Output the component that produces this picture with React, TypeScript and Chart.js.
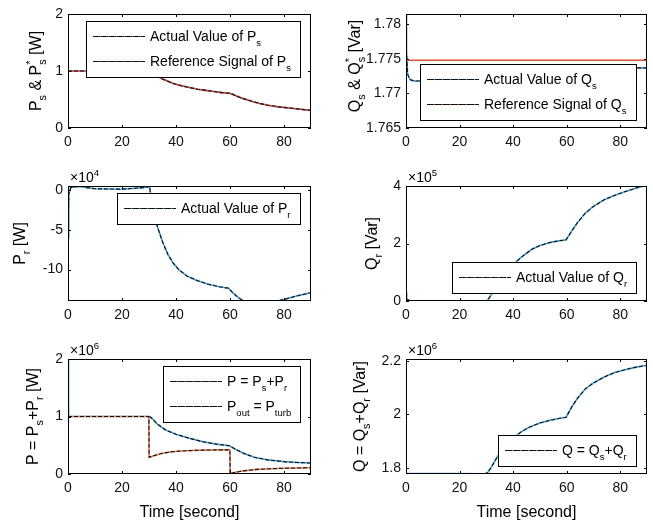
import { useEffect, useRef } from "react";
import { Chart, registerables } from "chart.js";

Chart.register(...registerables);

const FONT = "'Liberation Sans', Arial, sans-serif";
const BLUE = "#45a5dc";
const RED = "#e0503a";
const ORANGE = "#e8875a";

const xTicks = [0, 20, 40, 60, 80];

// stator active power P_s (actual and reference overlap)
const psTime = [0, 10, 20, 29.9, 30.5, 31.5, 33, 35, 37, 39, 42, 45, 48, 51, 54, 57, 59.8, 61, 63, 65, 68, 71, 74, 78, 82, 86, 90];
const psActual = [1, 1, 1, 1, 1, 0.97, 0.91, 0.86, 0.82, 0.78, 0.74, 0.71, 0.68, 0.66, 0.64, 0.62, 0.61, 0.59, 0.55, 0.515, 0.47, 0.43, 0.4, 0.37, 0.35, 0.33, 0.31];
const psReference = [1, 1, 1, 1, 1, 0.97, 0.91, 0.86, 0.82, 0.78, 0.74, 0.71, 0.68, 0.66, 0.64, 0.62, 0.61, 0.59, 0.55, 0.515, 0.47, 0.43, 0.4, 0.37, 0.35, 0.33, 0.31];

// stator reactive power Q_s
const qsTime = [0, 0.2, 0.6, 1.5, 3, 6, 15, 30, 45, 60, 75, 85, 90];
const qsActual = [1.7815, 1.776, 1.7728, 1.772, 1.7718, 1.7718, 1.772, 1.7724, 1.7728, 1.7731, 1.7734, 1.7737, 1.7737];
const qsRefTime = [0, 90];
const qsReference = [1.7748, 1.7748];

// rotor active power P_r (x10^4)
const prTime = [0, 0.3, 1, 3, 5, 7, 10, 20, 28, 29.9, 30.2, 30.6, 31.2, 32, 33, 35, 37, 39, 41, 44, 48, 52, 56, 59.5, 61, 63, 65, 68, 71, 75, 80, 85, 90];
const prValues = [-6, -0.5, 0.3, 0.4, 0.45, 0.3, 0.15, 0.1, 0.3, 0.4, 0.5, -0.6, -1.6, -3, -4.5, -6.5, -8.1, -9.2, -10, -10.8, -11.4, -11.85, -12.15, -12.35, -12.9, -13.5, -13.95, -14.2, -14.3, -14.15, -13.75, -13.3, -12.9];

// rotor reactive power Q_r (x10^5)
const qrTime = [0, 0.3, 2, 10, 20, 25, 29, 30, 31, 32, 34, 36, 38, 40, 43, 47, 50, 54, 57, 59.8, 62, 64, 67, 70, 74, 78, 82, 86, 90];
const qrValues = [0.3, 0.05, 0, -0.02, -0.03, -0.04, -0.03, -0.02, 0.1, 0.25, 0.55, 0.82, 1.05, 1.27, 1.52, 1.8, 1.93, 2.04, 2.09, 2.13, 2.45, 2.72, 3.06, 3.29, 3.52, 3.68, 3.81, 3.93, 4.03];

// total active power P and turbine output (x10^6)
const pTime = [0, 0.2, 29.9, 30.5, 31.5, 33, 36, 40, 45, 50, 55, 59.8, 62, 65, 69, 74, 80, 85, 90];
const pValues = [2, 1, 1, 0.99, 0.95, 0.87, 0.77, 0.69, 0.62, 0.56, 0.52, 0.49, 0.43, 0.36, 0.29, 0.245, 0.215, 0.2, 0.19];
const poutTime = [0, 29.95, 30.05, 32, 35, 38, 42, 46, 50, 55, 59.95, 60.05, 62, 65, 70, 75, 80, 85, 90];
const poutValues = [1, 1, 0.29, 0.32, 0.36, 0.385, 0.4, 0.41, 0.415, 0.42, 0.42, 0.01, 0.03, 0.055, 0.08, 0.092, 0.1, 0.105, 0.11];

// total reactive power Q (x10^6)
const qTime = [0, 0.3, 5, 10, 20, 28, 29.5, 30.5, 32, 34, 37, 40, 43, 46, 50, 54, 57, 59.8, 62, 64, 67, 70, 74, 78, 82, 86, 90];
const qValues = [1.781, 1.779, 1.779, 1.779, 1.779, 1.778, 1.778, 1.783, 1.805, 1.84, 1.884, 1.912, 1.935, 1.952, 1.968, 1.979, 1.985, 1.99, 2.03, 2.06, 2.096, 2.118, 2.14, 2.157, 2.168, 2.177, 2.184];

type Curve = { t: number[]; v: number[]; color: string; dashed: boolean };
type LegendItem = { text: string; color: string };
type PanelSpec = {
  canvas: [number, number, number, number];
  box: [number, number, number, number];
  yMin: number;
  yMax: number;
  yTicks: number[];
  yTitle: string;
  titleX: number;
  titleShift?: number;
  exponent?: string;
  legend: LegendItem[];
  corner: "ne" | "se";
  xTitle?: string;
  curves: Curve[];
};

const panels: PanelSpec[] = [
  {
    canvas: [0, 0, 330, 165],
    box: [68, 14, 311, 128],
    yMin: 0,
    yMax: 2,
    yTicks: [0, 1, 2],
    yTitle: "P_s & P_s^* [W]",
    titleX: 35,
    legend: [
      { text: "Actual Value of P_s", color: BLUE },
      { text: "Reference Signal of P_s", color: RED },
    ],
    corner: "ne",
    curves: [
      { t: psTime, v: psActual, color: BLUE, dashed: false },
      { t: psTime, v: psReference, color: RED, dashed: true },
    ],
  },
  {
    canvas: [330, 0, 323, 165],
    box: [406, 14, 647, 128],
    yMin: 1.765,
    yMax: 1.7815,
    yTicks: [1.765, 1.77, 1.775, 1.78],
    yTitle: "Q_s & Q_s^* [Var]",
    titleX: 24,
    titleShift: -5,
    legend: [
      { text: "Actual Value of Q_s", color: BLUE },
      { text: "Reference Signal of Q_s", color: RED },
    ],
    corner: "se",
    curves: [
      { t: qsRefTime, v: qsReference, color: RED, dashed: false },
      { t: qsTime, v: qsActual, color: BLUE, dashed: true },
    ],
  },
  {
    canvas: [0, 165, 330, 170],
    box: [68, 186, 311, 301],
    yMin: -13.95,
    yMax: 0.5,
    yTicks: [-10, -5, 0],
    yTitle: "P_r [W]",
    titleX: 19,
    exponent: "×10^4",
    legend: [{ text: "Actual Value of P_r", color: BLUE }],
    corner: "ne",
    curves: [{ t: prTime, v: prValues, color: BLUE, dashed: true }],
  },
  {
    canvas: [330, 165, 323, 170],
    box: [406, 186, 647, 301],
    yMin: 0,
    yMax: 4,
    yTicks: [0, 2, 4],
    yTitle: "Q_r [Var]",
    titleX: 41,
    exponent: "×10^5",
    legend: [{ text: "Actual Value of Q_r", color: BLUE }],
    corner: "se",
    curves: [{ t: qrTime, v: qrValues, color: BLUE, dashed: true }],
  },
  {
    canvas: [0, 335, 330, 188],
    box: [68, 359, 311, 474],
    yMin: 0,
    yMax: 2,
    yTicks: [0, 1, 2],
    yTitle: "P = P_s+P_r [W]",
    titleX: 32,
    exponent: "×10^6",
    legend: [
      { text: "P = P_s+P_r", color: BLUE },
      { text: "P_{out} = P_{turb}", color: ORANGE },
    ],
    corner: "ne",
    xTitle: "Time [second]",
    curves: [
      { t: pTime, v: pValues, color: BLUE, dashed: true },
      { t: poutTime, v: poutValues, color: ORANGE, dashed: true },
    ],
  },
  {
    canvas: [330, 335, 323, 188],
    box: [406, 359, 647, 474],
    yMin: 1.7775,
    yMax: 2.2075,
    yTicks: [1.8, 2, 2.2],
    yTitle: "Q = Q_s+Q_r [Var]",
    titleX: 29,
    exponent: "×10^6",
    legend: [{ text: "Q = Q_s+Q_r", color: BLUE }],
    corner: "se",
    xTitle: "Time [second]",
    curves: [{ t: qTime, v: qValues, color: BLUE, dashed: true }],
  },
];

type Seg = { s: string; k: number };

function parseRich(src: string): Seg[] {
  const out: Seg[] = [];
  let buf = "";
  let i = 0;
  while (i < src.length) {
    const c = src[i];
    if (c === "_" || c === "^") {
      if (buf) {
        out.push({ s: buf, k: 0 });
        buf = "";
      }
      let s = "";
      if (src[i + 1] === "{") {
        const j = src.indexOf("}", i);
        s = src.slice(i + 2, j);
        i = j + 1;
      } else {
        s = src[i + 1];
        i += 2;
      }
      out.push({ s, k: c === "_" ? -1 : 1 });
    } else {
      buf += c;
      i++;
    }
  }
  if (buf) out.push({ s: buf, k: 0 });
  return out;
}

function drawRich(ctx: CanvasRenderingContext2D, src: string, x: number, y: number, size: number, align: "left" | "center") {
  const placed: { s: string; fs: number; x: number; dy: number }[] = [];
  let pos = 0;
  let prevStart = 0;
  let prevK = 0;
  for (const seg of parseRich(src)) {
    const fs = seg.k === 0 ? size : size * 0.68;
    ctx.font = `${fs}px ${FONT}`;
    const w = ctx.measureText(seg.s).width;
    const stacked = seg.k === 1 && prevK === -1;
    const sx = stacked ? prevStart : pos;
    const dy = seg.k === -1 ? size * 0.32 : seg.k === 1 ? -size * 0.42 : 0;
    placed.push({ s: seg.s, fs, x: sx, dy });
    pos = stacked ? Math.max(pos, sx + w) : sx + w;
    prevStart = sx;
    prevK = seg.k;
  }
  const x0 = align === "center" ? x - pos / 2 : x;
  ctx.textAlign = "left";
  ctx.textBaseline = "alphabetic";
  ctx.fillStyle = "#000";
  for (const p of placed) {
    ctx.font = `${p.fs}px ${FONT}`;
    ctx.fillText(p.s, x0 + p.x, y + p.dy);
  }
  return pos;
}

function richWidth(ctx: CanvasRenderingContext2D, src: string, size: number) {
  ctx.save();
  ctx.globalAlpha = 0;
  const w = drawRich(ctx, src, 0, 0, size, "left");
  ctx.restore();
  return w;
}

function decor(spec: PanelSpec) {
  return {
    id: "decor",
    afterDatasetsDraw(chart: Chart) {
      const { ctx, chartArea: a, scales } = chart;
      const xs = scales.x;
      const ys = scales.y;
      ctx.save();
      ctx.strokeStyle = "#000";
      ctx.lineWidth = 1;
      ctx.setLineDash([]);
      ctx.beginPath();
      for (const v of xTicks) {
        if (v === 0) continue;
        const px = Math.round(xs.getPixelForValue(v)) + 0.5;
        ctx.moveTo(px, a.bottom);
        ctx.lineTo(px, a.bottom - 3);
        ctx.moveTo(px, a.top);
        ctx.lineTo(px, a.top + 3);
      }
      for (const v of spec.yTicks) {
        const py = Math.round(ys.getPixelForValue(v)) + 0.5;
        ctx.moveTo(a.left, py);
        ctx.lineTo(a.left + 3, py);
        ctx.moveTo(a.right, py);
        ctx.lineTo(a.right - 3, py);
      }
      ctx.stroke();
      ctx.strokeRect(a.left + 0.5, a.top + 0.5, a.right - a.left - 1, a.bottom - a.top - 1);

      // legend box
      const size = 14;
      const maxW = Math.max(...spec.legend.map((it) => richWidth(ctx, it.text, size)));
      const boxW = Math.round(7 + 52 + 5 + maxW + 9);
      const boxH = 25 * spec.legend.length + 6;
      const lx = Math.round(a.right - 11 - boxW);
      const ly = spec.corner === "ne" ? Math.round(a.top + 7) : Math.round(a.bottom - 8 - boxH);
      ctx.fillStyle = "#fff";
      ctx.fillRect(lx, ly, boxW, boxH);
      ctx.strokeStyle = "#000";
      ctx.lineWidth = 1;
      ctx.strokeRect(lx + 0.5, ly + 0.5, boxW, boxH);
      spec.legend.forEach((it, i) => {
        const cy = ly + 15.5 + i * 25;
        ctx.setLineDash([]);
        ctx.strokeStyle = it.color;
        ctx.lineWidth = 1.2;
        ctx.beginPath();
        ctx.moveTo(lx + 7, cy);
        ctx.lineTo(lx + 59, cy);
        ctx.stroke();
        ctx.setLineDash([7, 1]);
        ctx.strokeStyle = "#111";
        ctx.beginPath();
        ctx.moveTo(lx + 7, cy);
        ctx.lineTo(lx + 59, cy);
        ctx.stroke();
        ctx.setLineDash([]);
        drawRich(ctx, it.text, lx + 64, cy + size * 0.35, size, "left");
      });

      // y title
      ctx.save();
      ctx.translate(spec.titleX, (a.top + a.bottom) / 2 + (spec.titleShift ?? 0));
      ctx.rotate(-Math.PI / 2);
      drawRich(ctx, spec.yTitle, 0, 16 * 0.35, 16, "center");
      ctx.restore();

      if (spec.exponent) {
        drawRich(ctx, spec.exponent, a.left + 2, a.top - 4, 14, "left");
      }
      if (spec.xTitle) {
        drawRich(ctx, spec.xTitle, (a.left + a.right) / 2, a.bottom + 43, 16, "center");
      }
      ctx.restore();
    },
  };
}

function Panel({ spec }: { spec: PanelSpec }) {
  const ref = useRef<HTMLCanvasElement | null>(null);
  const [cl, ct, cw, chh] = spec.canvas;

  useEffect(() => {
    if (!ref.current) return;
    const [bl, bt, br, bb] = spec.box;
    const datasets: any[] = [];
    // later entries are drawn on top
    for (const c of spec.curves) {
      const data = c.t.map((x, i) => ({ x, y: c.v[i] }));
      datasets.push({ data, borderColor: c.color, borderWidth: 1.6, pointRadius: 0, clip: 0 });
      if (c.dashed) {
        datasets.push({ data, borderColor: "#111", borderWidth: 1.1, borderDash: [4, 2], pointRadius: 0, clip: 0 });
      }
    }
    datasets.forEach((d, i) => {
      d.order = datasets.length - i;
    });
    const tickFont = { family: FONT, size: 14 };
    const chart = new Chart(ref.current, {
      type: "line",
      data: { datasets },
      options: {
        animation: false,
        responsive: false,
        events: [],
        layout: { padding: { top: bt - ct, right: cl + cw - br, left: 0, bottom: 0 } },
        elements: { line: { tension: 0 }, point: { radius: 0 } },
        plugins: { legend: { display: false }, tooltip: { enabled: false } },
        scales: {
          x: {
            type: "linear",
            min: 0,
            max: 90,
            grid: { display: false, drawTicks: false },
            border: { display: false },
            ticks: { font: tickFont, color: "#111", padding: 6, maxRotation: 0, autoSkip: false, callback: (v: any) => String(v) },
            afterBuildTicks: (s: any) => {
              s.ticks = xTicks.map((value) => ({ value }));
            },
            afterFit: (s: any) => {
              s.height = ct + chh - bb;
            },
          },
          y: {
            type: "linear",
            min: spec.yMin,
            max: spec.yMax,
            grid: { display: false, drawTicks: false },
            border: { display: false },
            ticks: { font: tickFont, color: "#111", padding: 5, autoSkip: false, callback: (v: any) => String(v) },
            afterBuildTicks: (s: any) => {
              s.ticks = spec.yTicks.map((value) => ({ value }));
            },
            afterFit: (s: any) => {
              s.width = bl - cl;
            },
          },
        },
      },
      plugins: [decor(spec)],
    });
    return () => chart.destroy();
  }, [spec]);

  return (
    <canvas
      ref={ref}
      width={cw}
      height={chh}
      style={{ position: "absolute", left: cl, top: ct, width: cw, height: chh }}
    />
  );
}

export default function App() {
  return (
    <div style={{ position: "absolute", left: 0, top: 0, width: 653, height: 523, background: "#fff" }}>
      {panels.map((p, i) => (
        <Panel key={i} spec={p} />
      ))}
    </div>
  );
}
